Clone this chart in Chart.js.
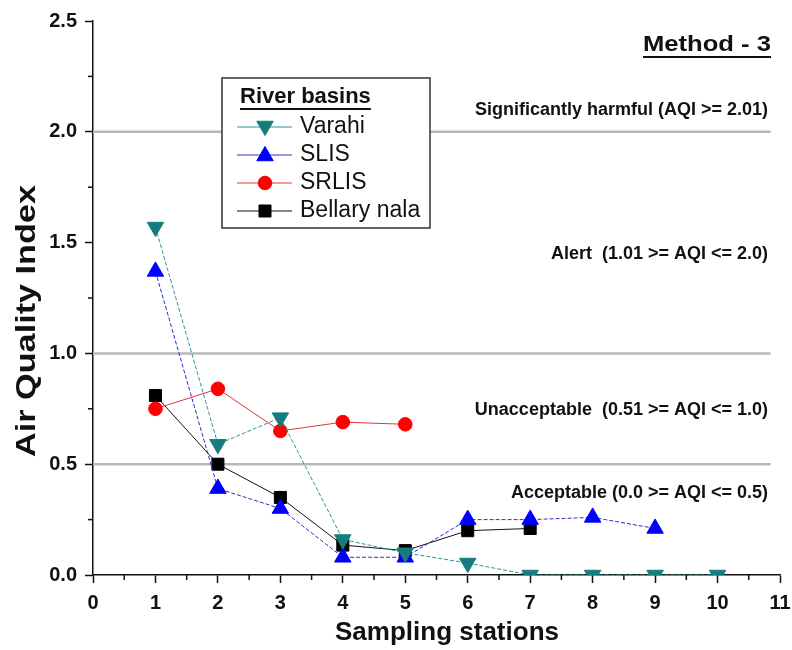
<!DOCTYPE html>
<html><head><meta charset="utf-8">
<script src="https://cdn.jsdelivr.net/npm/chart.js@4/dist/chart.umd.min.js"></script>
<style>html,body{margin:0;padding:0;background:#fff}#wrap{width:792px;height:650px}</style>
</head><body><div id="wrap"><canvas id="c" width="792" height="650"></canvas></div>
<script>
// ---- data ----
const stations = [1, 2, 3, 4, 5, 6, 7, 8, 9, 10];
const seriesNames = ['Varahi', 'SLIS', 'SRLIS', 'Bellary nala'];
const varahi  = [1.57, 0.59, 0.71, 0.16, 0.10, 0.054, 0, 0, 0, 0];
const slis    = [1.37, 0.39, 0.30, 0.08, 0.08, 0.25, 0.25, 0.26, 0.21];
const srlis   = [0.75, 0.84, 0.65, 0.69, 0.68];
const bellary = [0.81, 0.50, 0.35, 0.135, 0.11, 0.20, 0.21];
const xTickValues = [0, 1, 2, 3, 4, 5, 6, 7, 8, 9, 10, 11];
const yTickValues = [0, 0.5, 1.0, 1.5, 2.0, 2.5];
const thresholds = [0.5, 1.0, 2.0];
const bandLabels = [
  'Significantly harmful (AQI >= 2.01)',
  'Alert  (1.01 >= AQI <= 2.0)',
  'Unacceptable  (0.51 >= AQI <= 1.0)',
  'Acceptable (0.0 >= AQI <= 0.5)'
];
const xTitle = 'Sampling stations';
const yTitle = 'Air Quality Index';
const methodTitle = 'Method - 3';
const legendTitle = 'River basins';

// ---- styling / layout ----
const FONT = '"Liberation Sans", Arial, sans-serif';
const bandLabelPos = [2.10, 1.45, 0.745, 0.37]; // y-values where labels sit
const styles = [
  {line: '#2a9595', fill: '#167c7c', style: 'triangle', rot: 180, r: 9.5, dash: [4, 2]},
  {line: '#2f2fc8', fill: '#0000ff', style: 'triangle', rot: 0, r: 9.5, dash: [4, 2]},
  {line: '#e03535', fill: '#ff0000', style: 'circle', rot: 0, r: 6.8, dash: []},
  {line: '#111111', fill: '#000000', style: 'rect', rot: 0, r: 8.5, dash: []}
];
const allSeries = [varahi, slis, srlis, bellary];

const datasets = allSeries.map((vals, k) => ({
  label: seriesNames[k],
  data: vals.map((v, i) => ({x: stations[i], y: v})),
  borderColor: styles[k].line,
  borderWidth: 1,
  borderDash: styles[k].dash,
  pointStyle: styles[k].style,
  pointRotation: styles[k].rot,
  pointRadius: styles[k].r,
  pointBackgroundColor: styles[k].fill,
  pointBorderColor: styles[k].fill,
  pointBorderWidth: 1,
  tension: 0,
  fill: false
}));

function stretchText(ctx, text, x, y, font, align, targetW) {
  ctx.save();
  ctx.font = font;
  const w = ctx.measureText(text).width;
  const sx = targetW ? targetW / w : 1;
  ctx.translate(x, y);
  ctx.scale(sx, 1);
  ctx.textAlign = align;
  ctx.textBaseline = 'middle';
  ctx.fillText(text, 0, 0);
  ctx.restore();
  return w * sx;
}

function marker(ctx, st, x, y) {
  ctx.save();
  ctx.fillStyle = st.fill;
  ctx.strokeStyle = st.fill;
  ctx.lineWidth = 1;
  ctx.beginPath();
  const r = st.r;
  if (st.style === 'circle') {
    ctx.arc(x, y, r, 0, Math.PI * 2);
  } else if (st.style === 'rect') {
    const s = r * Math.SQRT1_2;
    ctx.rect(x - s, y - s, 2 * s, 2 * s);
  } else {
    let a = st.rot * Math.PI / 180;
    for (let i = 0; i < 3; i++) {
      const px = x + Math.sin(a) * r, py = y - Math.cos(a) * r;
      if (i === 0) ctx.moveTo(px, py); else ctx.lineTo(px, py);
      a += 2 * Math.PI / 3;
    }
    ctx.closePath();
  }
  ctx.fill();
  ctx.stroke();
  ctx.restore();
}

const decorPlugin = {
  id: 'decor',
  beforeDatasetsDraw(chart) {
    const {ctx, scales: {x, y}} = chart;
    ctx.save();
    ctx.strokeStyle = '#b8b8b8';
    ctx.lineWidth = 2.5;
    thresholds.forEach(t => {
      const py = y.getPixelForValue(t);
      ctx.beginPath();
      ctx.moveTo(x.getPixelForValue(0), py);
      ctx.lineTo(x.getPixelForValue(10.85), py);
      ctx.stroke();
    });
    ctx.restore();
  },
  afterDraw(chart) {
    const {ctx, scales: {x, y}, chartArea} = chart;
    ctx.save();
    // minor ticks
    ctx.strokeStyle = '#111';
    ctx.lineWidth = 1.5;
    for (let v = 0.25; v < 2.5; v += 0.5) {
      const py = y.getPixelForValue(v);
      ctx.beginPath(); ctx.moveTo(chartArea.left - 5, py); ctx.lineTo(chartArea.left, py); ctx.stroke();
    }
    for (let v = 0.5; v < 11; v += 1) {
      const px = x.getPixelForValue(v);
      ctx.beginPath(); ctx.moveTo(px, chartArea.bottom); ctx.lineTo(px, chartArea.bottom + 5); ctx.stroke();
    }
    ctx.fillStyle = '#111';
    // axis titles
    stretchText(ctx, xTitle, 447, 633, 'bold 25px ' + FONT, 'center', 224);
    ctx.save();
    ctx.translate(27, 321);
    ctx.rotate(-Math.PI / 2);
    stretchText(ctx, yTitle, 0, 0, 'bold 28px ' + FONT, 'center', 272);
    ctx.restore();
    // method title
    const mw = stretchText(ctx, methodTitle, 771, 45, 'bold 22px ' + FONT, 'right', 128);
    ctx.fillRect(771 - mw, 56, mw, 2);
    // band labels
    bandLabels.forEach((t, i) => {
      stretchText(ctx, t, 768, y.getPixelForValue(bandLabelPos[i]), 'bold 18px ' + FONT, 'right');
    });
    // legend
    ctx.fillStyle = '#fff';
    ctx.fillRect(222, 78, 208, 150);
    ctx.strokeStyle = '#333';
    ctx.lineWidth = 1.5;
    ctx.strokeRect(222, 78, 208, 150);
    ctx.fillStyle = '#111';
    const tw = stretchText(ctx, legendTitle, 240, 97, 'bold 22px ' + FONT, 'left');
    ctx.fillRect(240, 108, tw, 2);
    chart.data.datasets.forEach((ds, i) => {
      const ly = 127 + 28 * i;
      ctx.strokeStyle = ds.borderColor;
      ctx.lineWidth = 1;
      ctx.setLineDash([]);
      ctx.beginPath(); ctx.moveTo(237, ly); ctx.lineTo(292, ly); ctx.stroke();
      marker(ctx, styles[i], 265, ly + (styles[i].style === 'triangle' ? (styles[i].rot ? -1 : 1) : 0));
      ctx.fillStyle = '#111';
      stretchText(ctx, ds.label, 300, ly, '23px ' + FONT, 'left');
    });
    ctx.restore();
  }
};

new Chart(document.getElementById('c'), {
  type: 'line',
  data: {datasets},
  plugins: [decorPlugin],
  options: {
    responsive: false,
    animation: false,
    devicePixelRatio: 1,
    layout: {padding: {left: 0, right: 12, top: 21, bottom: 0}},
    plugins: {legend: {display: false}, tooltip: {enabled: false}},
    scales: {
      x: {
        type: 'linear', min: 0, max: 11,
        afterFit(s) { s.height = 75; s.paddingLeft = 0; s.paddingRight = 0; },
        afterBuildTicks(s) { s.ticks = xTickValues.map(v => ({value: v})); },
        ticks: {font: {family: FONT, weight: 'bold', size: 20}, color: '#111', padding: 8, maxRotation: 0, autoSkip: false,
          callback: v => String(v)},
        grid: {drawOnChartArea: false, tickColor: '#111', tickLength: 8, tickWidth: 1.5},
        border: {display: true, color: '#111', width: 1.5}
      },
      y: {
        type: 'linear', min: 0, max: 2.5,
        afterFit(s) { s.width = 93; s.paddingTop = 0; s.paddingBottom = 0; },
        afterBuildTicks(s) { s.ticks = yTickValues.map(v => ({value: v})); },
        ticks: {font: {family: FONT, weight: 'bold', size: 20}, color: '#111', padding: 8,
          callback: v => Number(v).toFixed(1)},
        grid: {drawOnChartArea: false, tickColor: '#111', tickLength: 8, tickWidth: 1.5},
        border: {display: true, color: '#111', width: 1.5}
      }
    }
  }
});
</script></body></html>
